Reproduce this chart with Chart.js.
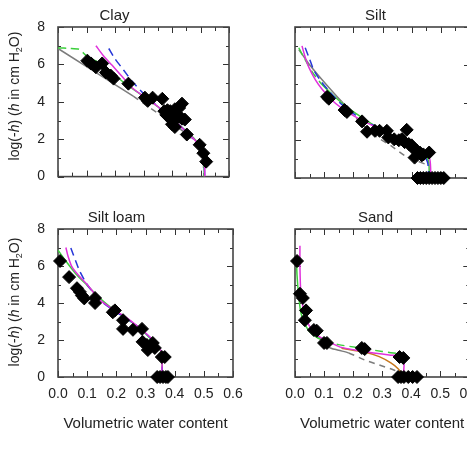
<!DOCTYPE html>
<html>
<head>
<meta charset="utf-8">
<script src="https://cdn.jsdelivr.net/npm/chart.js@4.4.0/dist/chart.umd.min.js"></script>
<style>
  html, body { margin: 0; padding: 0; background: #fff; overflow: hidden; }
  body { width: 467px; height: 454px; position: relative; font-family: "Liberation Sans", Arial, sans-serif; }
  canvas { position: absolute; }
  .ylab {
    position: absolute; font-size: 14px; color: #222; white-space: nowrap;
    transform: translate(-50%, -50%) rotate(-90deg);
  }
  .ylab sub { font-size: 9px; }
</style>
</head>
<body>
<canvas id="clay" width="241" height="190" style="left:0;top:0"></canvas>
<canvas id="silt" width="199" height="190" style="left:281px;top:0"></canvas>
<canvas id="siltloam" width="245" height="233" style="left:0;top:202px"></canvas>
<canvas id="sand" width="199" height="233" style="left:281px;top:202px"></canvas>
<div class="ylab" style="left:15px;top:96px">log(-<i>h</i>) (<i>h</i> in cm H<sub>2</sub>O)</div>
<div class="ylab" style="left:15px;top:302px">log(-<i>h</i>) (<i>h</i> in cm H<sub>2</sub>O)</div>
<script>
const xTickValues = [0, 0.1, 0.2, 0.3, 0.4, 0.5, 0.6];
const yTickValues = [0, 2, 4, 6, 8];
const xAxisTitle = 'Volumetric water content';

// Clay
const clayObsX = [0.103, 0.116, 0.133, 0.155, 0.168, 0.185, 0.195, 0.247, 0.305, 0.315, 0.332, 0.366, 0.373, 0.384, 0.394, 0.41, 0.425, 0.435, 0.38, 0.394, 0.41, 0.425, 0.435, 0.445, 0.40, 0.41, 0.452, 0.497, 0.51, 0.52];
const clayObsY = [6.2, 6.05, 5.85, 6.05, 5.57, 5.4, 5.24, 4.97, 4.22, 4.05, 4.22, 4.16, 3.5, 3.55, 3.5, 3.6, 3.67, 3.9, 3.3, 3.1, 3.05, 3.2, 3.1, 3.05, 2.8, 2.65, 2.25, 1.7, 1.25, 0.8];
const clayMagX = [0.133, 0.16, 0.19, 0.225, 0.26, 0.3, 0.35, 0.4, 0.45, 0.49, 0.508, 0.514, 0.515];
const clayMagY = [7.0, 6.45, 5.95, 5.35, 4.75, 4.3, 3.75, 3.1, 2.4, 1.8, 1.4, 0.8, 0];
const clayBlueX = [0.178, 0.2, 0.23, 0.26, 0.3, 0.35, 0.4, 0.45, 0.49, 0.51, 0.515];
const clayBlueY = [6.85, 6.3, 5.7, 5.1, 4.45, 3.75, 3.1, 2.4, 1.75, 1.2, 0];
const clayGreenX = [0, 0.04, 0.075, 0.1, 0.155, 0.236, 0.3, 0.37, 0.43, 0.48, 0.505, 0.512, 0.513];
const clayGreenY = [6.88, 6.86, 6.8, 6.45, 6.0, 4.97, 4.3, 3.5, 2.7, 2.0, 1.5, 0.8, 0];
const clayGrayX = [0, 0.264, 0.32, 0.38, 0.44, 0.49, 0.508, 0.512];
const clayGrayY = [6.85, 4.3, 3.7, 3.1, 2.4, 1.7, 1.0, 0];

// Silt
const siltObsX = [0.11, 0.116, 0.17, 0.178, 0.23, 0.247, 0.274, 0.29, 0.315, 0.32, 0.34, 0.356, 0.366, 0.376, 0.383, 0.39, 0.40, 0.41, 0.418, 0.428, 0.44, 0.46, 0.41, 0.435, 0.42, 0.43, 0.44, 0.45, 0.46, 0.47, 0.48, 0.49, 0.50, 0.51];
const siltObsY = [4.3, 4.2, 3.6, 3.5, 3.0, 2.45, 2.5, 2.5, 2.5, 2.15, 2.05, 2.0, 2.05, 1.9, 2.55, 1.8, 1.73, 1.5, 1.45, 1.35, 1.25, 1.35, 1.08, 1.2, 0, 0, 0, 0, 0, 0, 0, 0, 0, 0];
const siltMagX = [0.024, 0.035, 0.048, 0.07, 0.093, 0.125, 0.16, 0.2, 0.24, 0.29, 0.33, 0.38, 0.42, 0.45, 0.462, 0.465, 0.465];
const siltMagY = [7.0, 6.4, 5.85, 5.2, 4.7, 4.15, 3.7, 3.3, 2.97, 2.6, 2.25, 1.9, 1.5, 1.25, 1.0, 0.5, 0];
const siltBlueX = [0.035, 0.05, 0.065, 0.09, 0.12, 0.16, 0.22, 0.28, 0.34, 0.4, 0.44, 0.455, 0.458];
const siltBlueY = [6.9, 6.3, 5.7, 5.1, 4.55, 3.9, 3.2, 2.7, 2.2, 1.65, 1.25, 0.8, 0];
const siltGreenX = [0.013, 0.03, 0.06, 0.09, 0.13, 0.17, 0.22, 0.28, 0.34, 0.4, 0.44, 0.458, 0.46];
const siltGreenY = [6.9, 6.4, 5.6, 5.0, 4.4, 3.85, 3.3, 2.7, 2.2, 1.7, 1.3, 0.9, 0];
const siltGrayX = [0.013, 0.05, 0.093, 0.13, 0.16, 0.22, 0.274, 0.33, 0.377, 0.42, 0.46];
const siltGrayY = [6.8, 6.0, 5.2, 4.55, 4.05, 3.0, 2.25, 1.7, 1.18, 0.9, 0.65];

// Silt loam
const loamObsX = [0.007, 0.038, 0.065, 0.075, 0.082, 0.09, 0.127, 0.127, 0.188, 0.195, 0.223, 0.223, 0.257, 0.288, 0.29, 0.305, 0.315, 0.325, 0.332, 0.308, 0.356, 0.366, 0.34, 0.35, 0.36, 0.37, 0.377];
const loamObsY = [6.27, 5.4, 4.8, 4.6, 4.4, 4.25, 4.27, 4.0, 3.5, 3.6, 3.07, 2.6, 2.55, 2.6, 1.9, 1.73, 1.62, 1.84, 1.57, 1.46, 1.08, 1.08, 0, 0, 0, 0, 0];
const loamMagX = [0.027, 0.035, 0.048, 0.07, 0.1, 0.144, 0.19, 0.236, 0.28, 0.315, 0.343, 0.356, 0.356];
const loamMagY = [7.0, 6.5, 5.95, 5.5, 5.0, 4.16, 3.65, 3.2, 2.65, 2.16, 1.6, 1.35, 0];
const loamBlueX = [0.044, 0.06, 0.075, 0.1, 0.14, 0.19, 0.236, 0.28, 0.315, 0.343, 0.356, 0.357];
const loamBlueY = [6.97, 6.3, 5.7, 5.0, 4.2, 3.6, 3.15, 2.65, 2.15, 1.65, 1.3, 0];
const loamGreenX = [0.0, 0.03, 0.06, 0.1, 0.144, 0.19, 0.236, 0.28, 0.315, 0.343, 0.356, 0.357];
const loamGreenY = [6.85, 6.2, 5.6, 4.95, 4.25, 3.65, 3.15, 2.65, 2.1, 1.6, 1.3, 0];

// Sand
const sandObsX = [0.007, 0.017, 0.027, 0.038, 0.034, 0.065, 0.075, 0.1, 0.11, 0.23, 0.24, 0.36, 0.373, 0.355, 0.365, 0.375, 0.39, 0.405, 0.42];
const sandObsY = [6.27, 4.5, 4.27, 3.6, 3.07, 2.54, 2.5, 1.84, 1.84, 1.57, 1.51, 1.08, 1.03, 0, 0, 0, 0, 0, 0];
const sandMagX = [0.017, 0.017, 0.02, 0.03, 0.048, 0.07, 0.092, 0.13, 0.16, 0.22, 0.27, 0.33, 0.373, 0.373];
const sandMagY = [7.1, 6.0, 4.6, 3.6, 2.8, 2.35, 2.1, 1.8, 1.6, 1.42, 1.3, 1.18, 1.1, 0];
const sandGreenX = [0.005, 0.007, 0.012, 0.02, 0.035, 0.06, 0.1, 0.15, 0.22, 0.3, 0.36, 0.37];
const sandGreenY = [6.3, 5.5, 4.5, 3.5, 2.8, 2.3, 1.95, 1.75, 1.58, 1.38, 1.25, 1.2];
const sandOrangeX = [0.16, 0.2, 0.24, 0.29, 0.33, 0.355, 0.367, 0.37];
const sandOrangeY = [1.55, 1.45, 1.35, 1.1, 0.76, 0.45, 0.2, 0];
const sandGrayX = [0.08, 0.115, 0.15, 0.185, 0.24, 0.29, 0.34, 0.367];
const sandGrayY = [2.2, 1.62, 1.45, 1.3, 0.92, 0.65, 0.38, 0.2];

const MAGENTA = '#e030dc';
const BLUE = '#2636d8';
const GREEN = '#3ccf3c';
const GRAY = '#7c7c7c';
const ORANGE = '#c8781e';
const FONT = '"Liberation Sans", Arial, sans-serif';

function pts(xs, ys) {
    return xs.map((x, i) => ({x: x, y: ys[i]}));
}

function curve(xs, ys, color, dash, dashFrom, dashTo) {
    // dashFrom/dashTo: segment index range drawn dashed
    const ds = {
        type: 'scatter',
        data: pts(xs, ys),
        showLine: true,
        borderColor: color,
        borderWidth: 1.5,
        pointRadius: 0,
        tension: 0.25,
        borderDash: []
    };
    if (dash) {
        ds.segment = {
            borderDash: ctx => (ctx.p0DataIndex >= dashFrom && ctx.p0DataIndex < dashTo) ? dash : undefined
        };
    }
    return ds;
}

function observed(xs, ys) {
    return {
        type: 'scatter',
        data: pts(xs, ys),
        pointStyle: 'rectRot',
        pointRadius: 6.5,
        backgroundColor: '#000',
        borderColor: '#000',
        borderWidth: 1,
        clip: false
    };
}

// inward ticks on all four sides plus the frame
const boxTicks = {
    id: 'boxTicks',
    beforeDatasetsDraw(chart) {
        const {ctx, chartArea: a, scales: {x, y}} = chart;
        ctx.save();
        ctx.strokeStyle = '#333';
        ctx.lineWidth = 1;
        ctx.beginPath();
        for (let k = 0; k <= Math.round((x.max - x.min) / 0.05); k++) {
            const v = x.min + k * 0.05;
            const px = Math.round(x.getPixelForValue(v)) + 0.5;
            const len = k % 2 === 0 ? 6 : 4;
            ctx.moveTo(px, a.bottom); ctx.lineTo(px, a.bottom - len);
            ctx.moveTo(px, a.top); ctx.lineTo(px, a.top + len);
        }
        for (let v = y.min; v <= y.max; v++) {
            const py = Math.round(y.getPixelForValue(v)) + 0.5;
            const len = v % 2 === 0 ? 6 : 3;
            ctx.moveTo(a.left, py); ctx.lineTo(a.left + len, py);
            ctx.moveTo(a.right, py); ctx.lineTo(a.right - len, py);
        }
        ctx.stroke();
        ctx.strokeStyle = '#444';
        ctx.lineWidth = 1.6;
        ctx.strokeRect(a.left, a.top, a.right - a.left, a.bottom - a.top);
        ctx.restore();
    }
};

function makePanel(id, title, datasets, showYLabels, showXLabels) {
    const yWidth = showYLabels ? 58 : 14;
    new Chart(document.getElementById(id), {
        type: 'scatter',
        data: {datasets: datasets},
        options: {
            responsive: false,
            animation: false,
            layout: {padding: {right: showYLabels ? 12 : 10}},
            plugins: {
                legend: {display: false},
                tooltip: {enabled: false},
                title: {
                    display: true,
                    text: title,
                    color: '#222',
                    font: {family: FONT, size: 15, weight: 'normal', lineHeight: '16px'},
                    padding: {top: 8, bottom: 3}
                }
            },
            scales: {
                x: {
                    min: 0,
                    max: 0.6,
                    grid: {display: false},
                    border: {display: false},
                    afterBuildTicks: s => { s.ticks = xTickValues.map(v => ({value: v})); },
                    afterFit: s => { s.height = showXLabels ? 58 : 12; },
                    ticks: {
                        display: showXLabels,
                        color: '#222',
                        padding: 1,
                        maxRotation: 0,
                        font: {family: FONT, size: 14},
                        callback: v => Number(v).toFixed(1)
                    },
                    title: {
                        display: showXLabels,
                        text: xAxisTitle,
                        color: '#222',
                        padding: {top: 0, bottom: 2},
                        font: {family: FONT, size: 15}
                    }
                },
                y: {
                    min: 0,
                    max: 8,
                    grid: {display: false},
                    border: {display: false},
                    afterBuildTicks: s => { s.ticks = yTickValues.map(v => ({value: v})); },
                    afterFit: s => { s.width = yWidth; },
                    ticks: {
                        display: showYLabels,
                        color: '#222',
                        padding: 5,
                        font: {family: FONT, size: 14},
                        callback: v => String(v)
                    }
                }
            }
        },
        plugins: [boxTicks]
    });
}

makePanel('clay', 'Clay', [
    observed(clayObsX, clayObsY),
    curve(clayMagX, clayMagY, MAGENTA),
    curve(clayBlueX, clayBlueY, BLUE, [8, 5], 0, 99),
    curve(clayGreenX, clayGreenY, GREEN, [8, 5], 0, 3),
    curve(clayGrayX, clayGrayY, GRAY, [6, 5], 1, 99)
], true, false);

makePanel('silt', 'Silt', [
    observed(siltObsX, siltObsY),
    curve(siltMagX, siltMagY, MAGENTA),
    curve(siltBlueX, siltBlueY, BLUE, [8, 5], 0, 99),
    curve(siltGreenX, siltGreenY, GREEN, [8, 5], 0, 3),
    curve(siltGrayX, siltGrayY, GRAY, [6, 5], 4, 99)
], false, false);

makePanel('siltloam', 'Silt loam', [
    observed(loamObsX, loamObsY),
    curve(loamMagX, loamMagY, MAGENTA),
    curve(loamBlueX, loamBlueY, BLUE, [8, 5], 0, 99),
    curve(loamGreenX, loamGreenY, GREEN)
], true, true);

makePanel('sand', 'Sand', [
    observed(sandObsX, sandObsY),
    curve(sandMagX, sandMagY, MAGENTA),
    curve(sandGreenX, sandGreenY, GREEN, [8, 5], 6, 99),
    curve(sandOrangeX, sandOrangeY, ORANGE),
    curve(sandGrayX, sandGrayY, GRAY, [6, 5], 3, 99)
], false, true);
</script>
</body>
</html>
